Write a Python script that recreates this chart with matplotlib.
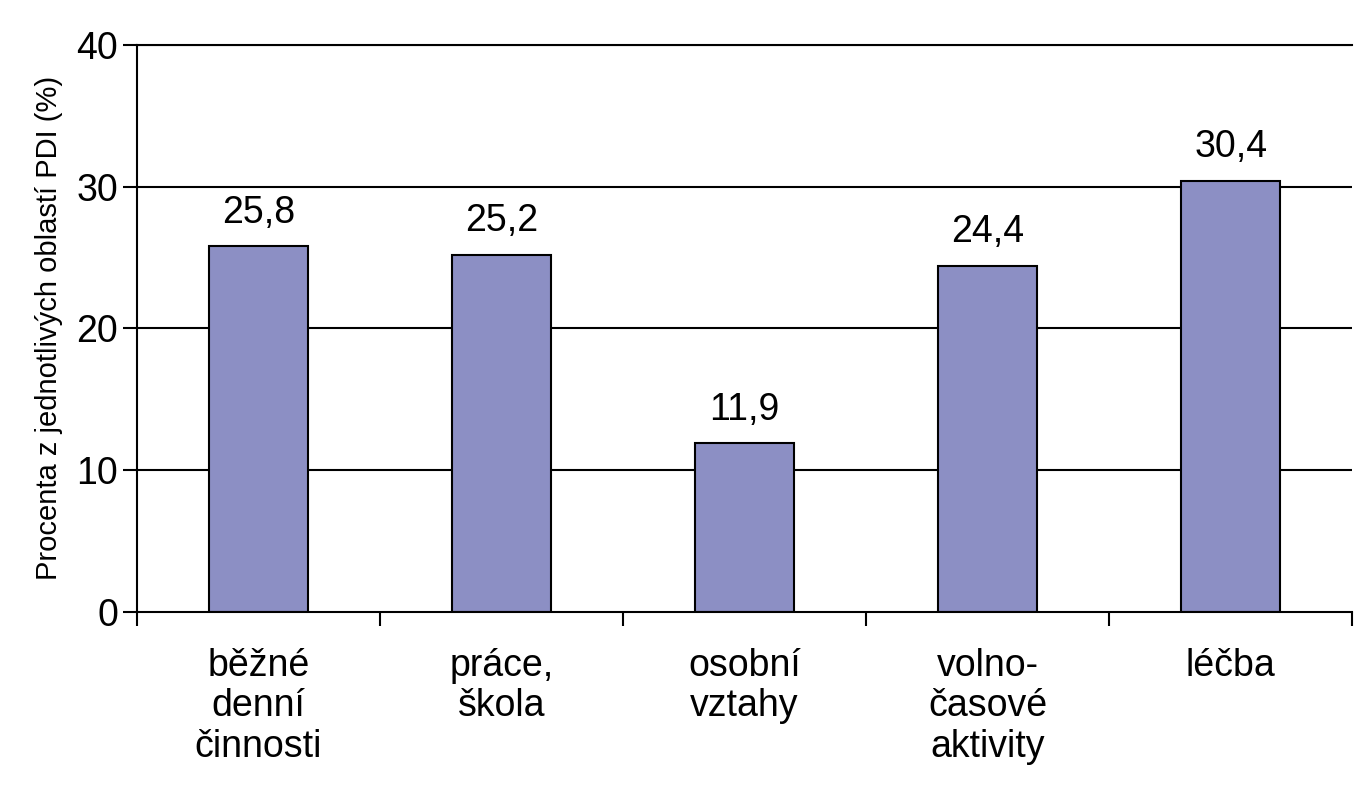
import matplotlib
matplotlib.use("Agg")
import matplotlib.pyplot as plt

categories = ["běžné\ndenní\nčinnosti", "práce,\nškola", "osobní\nvztahy", "volno-\nčasové\naktivity", "léčba"]
values = [25.8, 25.2, 11.9, 24.4, 30.4]
labels = ["25,8", "25,2", "11,9", "24,4", "30,4"]

plt.rcParams['font.family'] = ['Liberation Sans', 'DejaVu Sans']
fig = plt.figure(figsize=(13.7, 8), dpi=100)
ax = fig.add_axes([0.1, 0.235, 0.887, 0.709])
x = range(len(values))
for y in (10, 20, 30, 40):
    ax.axhline(y, color='black', lw=1.5, zorder=1)
ax.bar(x, values, width=0.41, color='#8c8fc4', edgecolor='black', lw=1.5, zorder=2)
for i, (v, l) in enumerate(zip(values, labels)):
    ax.text(i, v + 1.1, l, ha='center', va='bottom', fontsize=27)
ax.set_xlim(-0.5, 4.5)
ax.set_ylim(0, 40)
ax.set_yticks([0, 10, 20, 30, 40])
ax.set_yticklabels(["0", "10", "20", "30", "40"], fontsize=27)
ax.set_xticks([i - 0.5 for i in range(6)])
ax.set_xticklabels([])
ax.set_xticks(list(x), minor=True)
ax.set_xticklabels(categories, minor=True, fontsize=27, linespacing=1.15, va='top')
ax.tick_params(axis='x', which='minor', length=0, pad=26)
ax.tick_params(axis='x', which='major', length=10, width=1.5, direction='out')
ax.tick_params(axis='y', length=10, width=1.5, direction='out')
ax.spines['right'].set_visible(False)
for s in ('left', 'bottom', 'top'):
    ax.spines[s].set_linewidth(1.5)
ax.set_ylabel("Procenta z jednotlivých oblastí PDI (%)", fontsize=21, labelpad=10)
fig.savefig("out.png")
